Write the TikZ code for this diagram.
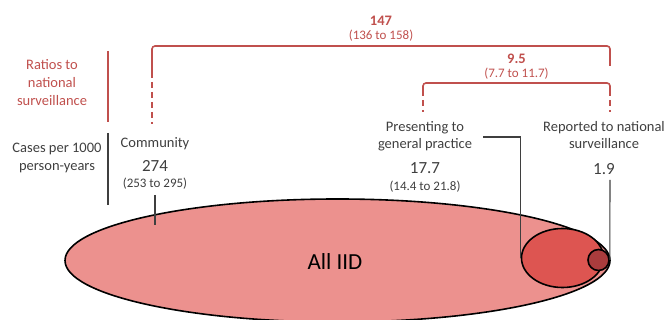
\documentclass[tikz,border=0pt]{standalone}
\usepackage{fontspec}
\setmainfont{Carlito}
\usetikzlibrary{shapes.geometric}
\definecolor{redtxt}{HTML}{C0504D}
\definecolor{grytxt}{HTML}{3F3F3F}
\definecolor{bigfill}{HTML}{EC918E}
\definecolor{medfill}{HTML}{DD5551}
\definecolor{smallfill}{HTML}{A93C3D}
\tikzset{
  lbl/.style={anchor=base, inner sep=0pt, text=grytxt, font=\fontsize{14.5}{17}\selectfont},
  rlbl/.style={anchor=base, inner sep=0pt, text=redtxt, font=\fontsize{14.5}{17}\selectfont},
  bignum/.style={anchor=base, inner sep=0pt, text=grytxt, font=\fontsize{17}{20}\selectfont},
  ci/.style={anchor=base, inner sep=0pt, text=grytxt, font=\fontsize{13}{15}\selectfont},
  rnum/.style={anchor=base, inner sep=0pt, text=redtxt, font=\bfseries\fontsize{14.5}{17}\selectfont},
  rci/.style={anchor=base, inner sep=0pt, text=redtxt, font=\fontsize{13}{15}\selectfont},
  bracket/.style={draw=redtxt, line width=1.6pt, rounded corners=3pt},
  dbracket/.style={draw=redtxt, line width=1.6pt, dash pattern=on 6pt off 4pt},
  bar/.style={line width=2.6pt},
  conn/.style={draw=grytxt, line width=1.1pt},
  blob/.style={ellipse, draw=black, line width=1.6pt, inner sep=0pt},
}
\begin{document}
\begin{tikzpicture}[x=1pt,y=-1pt]
\useasboundingbox (0,0) rectangle (670,320);
% ellipses
\node[blob, fill=bigfill, minimum width=545pt, minimum height=123pt] (big) at (337.5,260.5) {};
\node[blob, fill=medfill, minimum width=82pt, minimum height=59pt] (med) at (562.5,258) {};
\node[blob, fill=smallfill, circle, minimum size=21pt] (small) at (598.5,260) {};
\node[anchor=base, inner sep=0pt, text=black, font=\fontsize{23}{26}\selectfont] (all) at (335,270) {All IID};
% left labels
\node[rlbl] (r1) at (52,70) {Ratios to};
\node[rlbl] (r2) at (52,88) {national};
\node[rlbl] (r3) at (52,105.5) {surveillance};
\node[lbl] (cp1) at (57,153) {Cases per 1000};
\node[lbl] (cp2) at (57,171) {person-years};
\coordinate (rbt) at (108,51);
\coordinate (rbb) at (108,122);
\coordinate (gbt) at (108,133);
\coordinate (gbb) at (108,205);
\draw[bar, draw=redtxt] (rbt) -- (rbb);
\draw[bar, draw=grytxt] (gbt) -- (gbb);
% community
\node[lbl] (com) at (155,148) {Community};
\node[bignum] (n274) at (155,172) {274};
\node[ci] (c274) at (155,188) {(253 to 295)};
% presenting
\node[lbl] (gp1) at (425,131.5) {Presenting to};
\node[lbl] (gp2) at (425,149) {general practice};
\node[bignum] (n177) at (425,174) {17.7};
\node[ci] (c177) at (425,190.5) {(14.4 to 21.8)};
% reported
\node[lbl] (rs1) at (604,131.5) {Reported to national};
\node[lbl] (rs2) at (604,149) {surveillance};
\node[bignum] (n19) at (604,175) {1.9};
% ratios
\node[rnum] (r147) at (381,26) {147};
\node[rci] (c147) at (381,40) {(136 to 158)};
\node[rnum] (r95) at (516.5,64) {9.5};
\node[rci] (c95) at (516.5,78) {(7.7 to 11.7)};
% brackets
\coordinate (oL) at (152,72);
\coordinate (oLd) at (152,124);
\coordinate (oR) at (610,66);
\coordinate (iL) at (423,90);
\coordinate (iLd) at (423,112);
\coordinate (iR) at (610,90);
\coordinate (iRd) at (610,112);
\draw[bracket] (oL) -- (152,46) -- (610,46) -- (oR);
\draw[dbracket] (oL) -- (oLd);
\draw[bracket] (iL) -- (423,83) -- (610,83) -- (iR);
\draw[dbracket] (iL) -- (iLd);
\draw[dbracket] (iR) -- (iRd);
% connectors
\coordinate (ct) at (155,195);
\coordinate (cb) at (155,225);
\draw[conn] (ct) -- (cb);
\coordinate (gpc) at (483,137);
\draw[conn] (gpc) -| (med.west);
\coordinate (rsc) at (610,180);
\draw[conn] (rsc) -- (small.east);
\end{tikzpicture}
\end{document}
